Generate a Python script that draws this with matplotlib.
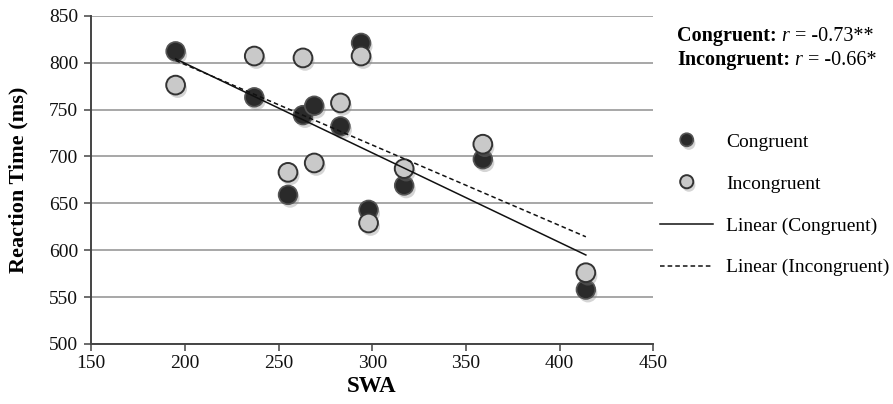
import numpy as np
import matplotlib
matplotlib.use("Agg")
import matplotlib.pyplot as plt
import matplotlib.patheffects as pe

plt.rcParams['font.family'] = ['Liberation Serif', 'DejaVu Serif']

# Data (SWA vs reaction time, ms)
swa = [195, 237, 255, 263, 269, 283, 294, 298, 317, 359, 414]
rt_congruent = [812, 763, 659, 744, 754, 732, 821, 643, 669, 697, 558]
rt_incongruent = [776, 807, 683, 805, 693, 757, 807, 629, 687, 713, 576]

x_ticks = [150, 200, 250, 300, 350, 400, 450]
y_ticks = [500, 550, 600, 650, 700, 750, 800, 850]

W, H = 893, 404
fig = plt.figure(figsize=(W / 100, H / 100), dpi=100)
ax = fig.add_axes([91.3 / W, 1 - 344 / H, (653.3 - 91.3) / W, (344 - 15.7) / H])

x = np.array(swa, dtype=float)
yc = np.array(rt_congruent, dtype=float)
yi = np.array(rt_incongruent, dtype=float)

shadow = [pe.SimplePatchShadow(offset=(1.5, -2.5), shadow_rgbFace='#888888', alpha=0.35), pe.Normal()]

hc, = ax.plot(x, yc, 'o', ls='none', markersize=13.5, markerfacecolor='#2a2a2a',
              markeredgecolor='#555555', markeredgewidth=1.2, label='Congruent', zorder=3,
              path_effects=shadow)
hi, = ax.plot(x, yi, 'o', ls='none', markersize=13.5, markerfacecolor='#c9c9c9',
              markeredgecolor='#333333', markeredgewidth=1.4, label='Incongruent', zorder=4,
              path_effects=shadow)

xs = np.array([x.min(), x.max()])
pc = np.polyfit(x, yc, 1)
pi = np.polyfit(x, yi, 1)
lc, = ax.plot(xs, np.polyval(pc, xs), color='#111111', lw=1.1, ls='-',
              label='Linear (Congruent)', zorder=5)
li, = ax.plot(xs, np.polyval(pi, xs), color='#111111', lw=1.1, ls=(0, (3, 2)),
              label='Linear (Incongruent)', zorder=5)

ax.set_xlim(150, 450)
ax.set_ylim(500, 850)
ax.set_xticks(x_ticks)
ax.set_yticks(y_ticks)
ax.set_xticklabels([str(v) for v in x_ticks], fontsize=14)
ax.set_yticklabels([str(v) for v in y_ticks], fontsize=14)
ax.yaxis.grid(True, color='#a0a0a0', lw=1.3)
ax.set_axisbelow(True)
for s in ['top', 'right']:
    ax.spines[s].set_visible(False)
for s in ['left', 'bottom']:
    ax.spines[s].set_color('#444444')
    ax.spines[s].set_linewidth(1.4)
ax.tick_params(axis='both', direction='out', length=5, width=1.1, color='#444444', labelcolor='#111111')
ax.tick_params(axis='y', pad=4.5)
ax.tick_params(axis='x', pad=3)

ax.set_xlabel('SWA', fontsize=16.5, fontweight='bold')
ax.xaxis.label.set_va('center')
ax.set_ylabel('Reaction Time (ms)', fontsize=16, fontweight='bold')
ax.yaxis.label.set_va('center')
ax.yaxis.set_label_coords(18 / W, 1 - 180 / H, transform=fig.transFigure)
ax.xaxis.set_label_coords(372 / W, 1 - 386 / H, transform=fig.transFigure)

def rich_line(y_px, bold, value):
    fs = 14.5
    t1 = fig.text(677 / W, 1 - y_px / H, bold, fontsize=fs, fontweight='bold',
                  ha='left', va='baseline')
    a2 = ax.annotate(' r', xy=(1, 0), xycoords=t1, fontsize=fs, fontstyle='italic',
                     ha='left', va='bottom', annotation_clip=False)
    ax.annotate(' = ' + value, xy=(1, 0), xycoords=a2, fontsize=fs,
                ha='left', va='bottom', annotation_clip=False)
    return t1

rich_line(41, 'Congruent:', '-0.73**')
rich_line(65, 'Incongruent:', '-0.66*')

leg = fig.legend(handles=[hc, hi, lc, li], loc='upper left', bbox_to_anchor=(660 / W, 1 - 133 / H),
                 frameon=False, fontsize=14, handlelength=2.75, handletextpad=0.65,
                 labelspacing=1.25, markerscale=0.7, borderpad=0, borderaxespad=0)

fig.savefig('out.png', dpi=100)
